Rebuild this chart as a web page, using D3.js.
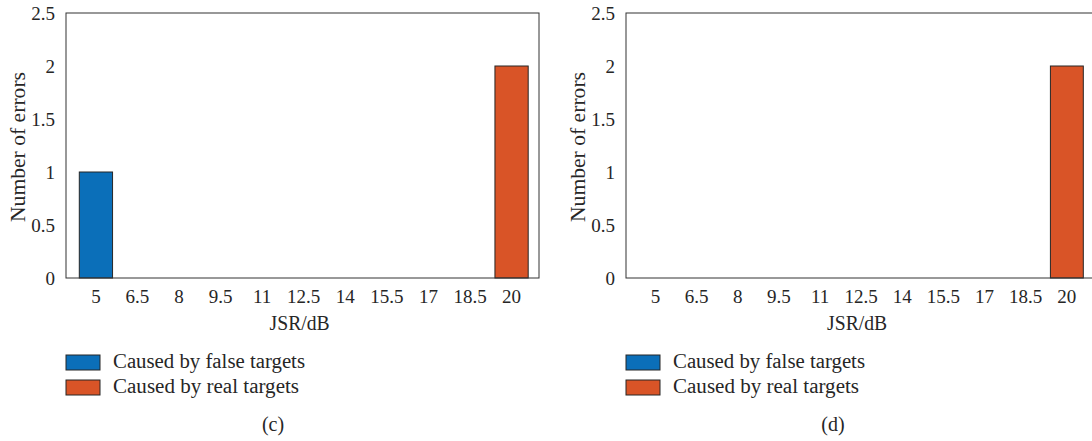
<!DOCTYPE html>
<html>
<head>
<meta charset="utf-8">
<script src="https://cdn.jsdelivr.net/npm/d3@7"></script>
<style>
  html, body { margin: 0; padding: 0; background: #fff; }
  svg { display: block; }
  text { font-family: "Liberation Serif", "Times New Roman", serif; fill: #262626; }
</style>
</head>
<body>
<div id="chart"></div>
<script>
// JSR values (categories) shared by both panels
const categories = ["5", "6.5", "8", "9.5", "11", "12.5", "14", "15.5", "17", "18.5", "20"];
const yTicks = [0, 0.5, 1, 1.5, 2, 2.5];
const seriesNames = ["Caused by false targets", "Caused by real targets"];
const seriesColors = ["#0b6fb9", "#d95427"];

// panel (c)
const falseC = [1, 0, 0, 0, 0, 0, 0, 0, 0, 0, 0];
const realC  = [0, 0, 0, 0, 0, 0, 0, 0, 0, 0, 2];
// panel (d)
const falseD = [0, 0, 0, 0, 0, 0, 0, 0, 0, 0, 0];
const realD  = [0, 0, 0, 0, 0, 0, 0, 0, 0, 0, 2];

const width = 1092, height = 441;

const svg = d3.select("#chart")
    .append("svg")
    .attr("width", width)
    .attr("height", height)
    .attr("viewBox", [0, 0, width, height]);

const panels = [
    { label: "(c)", left: 66, right: 539, falseV: falseC, realV: realC },
    { label: "(d)", left: 626, right: 1094, falseV: falseD, realV: realD }
];

const plotTop = 13, plotBottom = 278;
const axisColor = "#333";
// legend text widths (the original font is wider than Times)
const legendLen = [192, 186];

panels.forEach(p => {
    const g = svg.append("g");

    let x = d3.scaleLinear()
        .domain([-0.72, 10.66])
        .range([p.left, p.right]);

    let y = d3.scaleLinear()
        .domain([0, 2.5])
        .range([plotBottom, plotTop]);

    const step = x(1) - x(0);
    const barW = step * 0.8;

    // stacked data
    let rows = categories.map((c, i) => ({ cat: i, f: p.falseV[i], r: p.realV[i] }));
    let stacked = d3.stack().keys(["f", "r"])(rows);

    stacked.forEach((layer, k) => {
        g.append("g")
            .attr("fill", seriesColors[k])
            .attr("stroke", "#262626")
            .attr("stroke-width", 1)
            .selectAll("rect")
            .data(layer.filter(d => d[1] - d[0] > 0))
            .join("rect")
            .attr("x", d => x(d.data.cat) - barW / 2)
            .attr("y", d => y(d[1]))
            .attr("width", barW)
            .attr("height", d => y(d[0]) - y(d[1]));
    });

    // box
    g.append("rect")
        .attr("x", p.left)
        .attr("y", plotTop)
        .attr("width", p.right - p.left)
        .attr("height", plotBottom - plotTop)
        .attr("fill", "none")
        .attr("stroke", axisColor)
        .attr("stroke-width", 1);

    // y axis labels
    g.append("g")
        .selectAll("text")
        .data(yTicks)
        .join("text")
        .attr("x", p.left - 11)
        .attr("y", d => y(d))
        .attr("dy", "0.35em")
        .attr("text-anchor", "end")
        .style("font-size", "19px")
        .text(d => d);

    // x axis labels
    g.append("g")
        .selectAll("text")
        .data(categories)
        .join("text")
        .attr("x", (d, i) => x(i))
        .attr("y", 303)
        .attr("text-anchor", "middle")
        .style("font-size", "19px")
        .text(d => d);

    // axis titles
    g.append("text")
        .attr("x", x(4.9))
        .attr("y", 330)
        .attr("text-anchor", "middle")
        .attr("textLength", 60)
        .attr("lengthAdjust", "spacingAndGlyphs")
        .style("font-size", "20px")
        .text("JSR/dB");

    g.append("text")
        .attr("transform", `translate(${p.left - 41},147) rotate(-90)`)
        .attr("text-anchor", "middle")
        .attr("textLength", 150)
        .attr("lengthAdjust", "spacingAndGlyphs")
        .style("font-size", "20px")
        .text("Number of errors");

    // legend
    const leg = g.append("g");
    seriesNames.forEach((name, k) => {
        leg.append("rect")
            .attr("x", p.left)
            .attr("y", 355 + k * 25)
            .attr("width", 34)
            .attr("height", 15)
            .attr("fill", seriesColors[k])
            .attr("stroke", "#262626")
            .attr("stroke-width", 1);
        leg.append("text")
            .attr("x", p.left + 47)
            .attr("y", 368 + k * 25)
            .attr("textLength", legendLen[k])
            .attr("lengthAdjust", "spacingAndGlyphs")
            .style("font-size", "20px")
            .text(name);
    });

    // panel label
    g.append("text")
        .attr("x", p.left + 207)
        .attr("y", 431)
        .attr("text-anchor", "middle")
        .style("font-size", "20px")
        .text(p.label);
});
</script>
</body>
</html>
